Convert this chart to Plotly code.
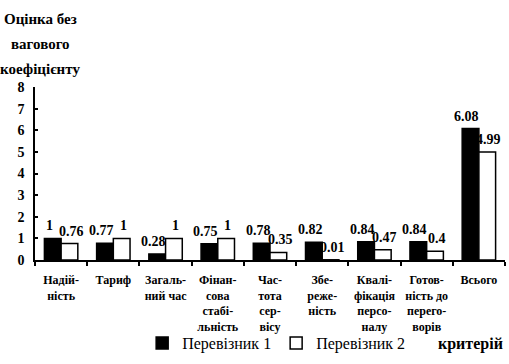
import plotly.graph_objects as go

categories = ["Надій-<br>ність", "Тариф", "Загаль-<br>ний час", "Фінан-<br>сова<br>стабі-<br>льність",
              "Час-<br>тота<br>сер-<br>вісу", "Збе-<br>реже-<br>ність", "Квалі-<br>фікація<br>персо-<br>налу",
              "Готов-<br>ність до<br>перего-<br>ворів", "Всього"]
carrier1 = [1, 0.77, 0.28, 0.75, 0.78, 0.82, 0.84, 0.84, 6.08]
carrier2 = [0.76, 1, 1, 1, 0.35, 0.01, 0.47, 0.4, 4.99]
y_ticks = [0, 1, 2, 3, 4, 5, 6, 7, 8]

FONT = "Liberation Serif"

fig = go.Figure()
fig.add_trace(go.Bar(
    x=categories, y=carrier1, name="Перевізник 1",
    marker=dict(color="black", line=dict(color="black", width=1.5)),
))
fig.add_trace(go.Bar(
    x=categories, y=carrier2, name="Перевізник 2",
    marker=dict(color="white", line=dict(color="black", width=1.5)),
))

# value labels anchored at the data values (category, value) of each bar
value_anns = []
for c, v in zip(categories, carrier1):
    value_anns.append(dict(x=c, y=v, xref="x", yref="y", text="<b>%s</b>" % v, showarrow=False,
                           xanchor="center", yanchor="bottom", xshift=-12, yshift=3,
                           font=dict(family=FONT, size=14, color="black")))
for c, v in zip(categories, carrier2):
    value_anns.append(dict(x=c, y=v, xref="x", yref="y", text="<b>%s</b>" % v, showarrow=False,
                           xanchor="center", yanchor="bottom", xshift=10, yshift=3,
                           font=dict(family=FONT, size=14, color="black")))

# free texts, given in pixel positions and converted to paper coordinates
plot_w = 509 - 35 - 4
plot_h = 364 - 87 - 99
def px_ann(text, px, py, size, anchor):
    return dict(text=text, x=(px - 35) / plot_w, y=(364 - 99 - py) / plot_h,
                xref="paper", yref="paper", showarrow=False, xanchor=anchor, yanchor="middle",
                font=dict(family=FONT, size=size, color="black"))

text_anns = [
    px_ann("<b>Оцінка без</b>", 40, 17, 15, "center"),
    px_ann("<b>вагового</b>", 40, 43, 15, "center"),
    px_ann("<b>коефіцієнту</b>", 40, 68, 15, "center"),
    px_ann("<b>критерій</b>", 505, 351, 16, "right"),
]

fig.update_layout(
    width=509, height=364,
    margin=dict(l=35, r=4, t=87, b=99),
    paper_bgcolor="white", plot_bgcolor="white",
    barmode="group", bargap=0.36, bargroupgap=0,
    font=dict(family=FONT, color="black"),
    showlegend=True,
    legend=dict(orientation="h", x=0.228, y=-0.48, xanchor="left", yanchor="middle",
                font=dict(family=FONT, size=16, color="black"),
                itemwidth=30, tracegroupgap=0, bgcolor="rgba(0,0,0,0)"),
    xaxis=dict(
        showline=True, linecolor="black", linewidth=1.5,
        ticks="outside", tickson="boundaries", ticklen=4, tickcolor="black", tickwidth=1.5,
        tickfont=dict(family=FONT, size=12, color="black"),
        tickangle=0, showgrid=False, automargin=False, ticklabelstandoff=8,
        ticktext=["<b>%s</b>" % c for c in categories], tickvals=categories,
    ),
    yaxis=dict(
        range=[0, 8], tickvals=y_ticks, ticktext=["<b>%d</b>" % v for v in y_ticks],
        showline=True, linecolor="black", linewidth=1.5,
        ticks="inside", ticklen=3, tickcolor="black", tickwidth=1.5,
        tickfont=dict(family=FONT, size=14, color="black"),
        showgrid=False, zeroline=False, automargin=False, ticklabelstandoff=6,
    ),
    annotations=value_anns + text_anns,
)

fig.write_html("out.html", config={"displayModeBar": False},
               post_script="document.body.style.margin='0';")
